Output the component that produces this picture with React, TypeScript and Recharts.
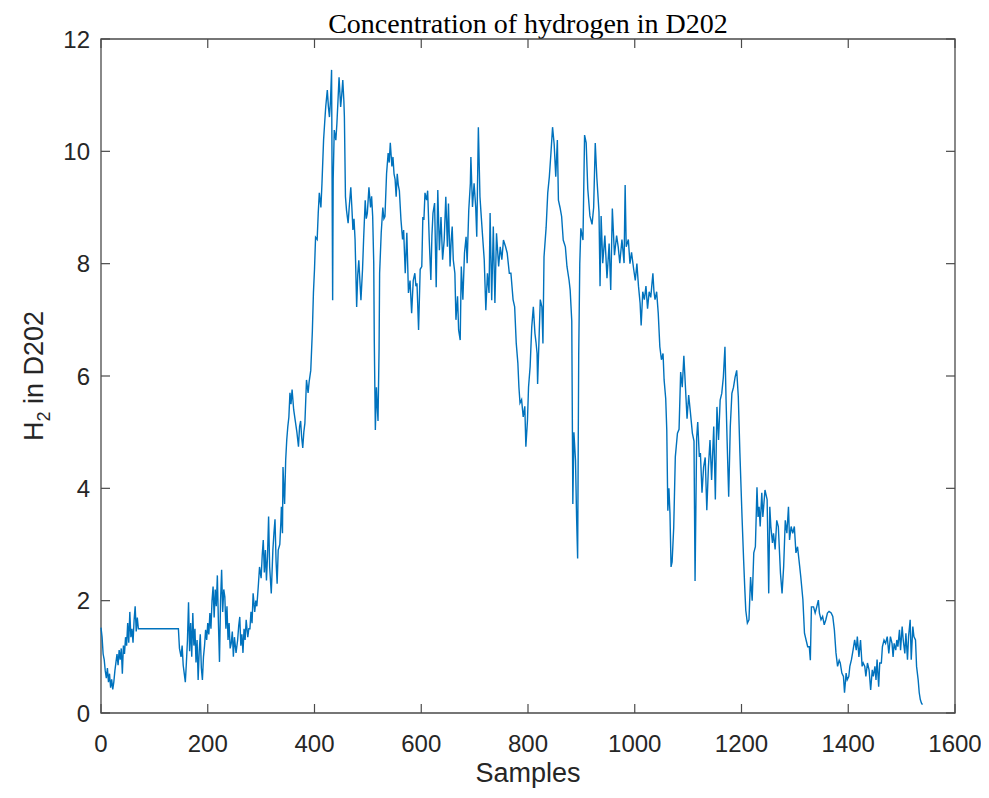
// Hydrogen concentration trace for tank D202, drawn MATLAB-style:
// boxed axes, inward ticks on all four sides, single blue trace.

import { Line, LineChart, ReferenceArea, XAxis, YAxis } from "recharts";

const chartTitle = "Concentration of hydrogen in D202";
const xLabel = "Samples";

const xTicks = [0, 200, 400, 600, 800, 1000, 1200, 1400, 1600];
const yTicks = [0, 2, 4, 6, 8, 10, 12];

// [sample index, H2 level]
const h2Trace: [number, number][] = [
  [0, 1.52], [2, 1.35], [4, 1.05], [6, 0.95], [8, 0.75], [10, 0.62], [12, 0.8], [14, 0.55],
  [16, 0.7], [18, 0.45], [20, 0.6], [22, 0.42], [24, 0.55], [26, 0.75], [28, 0.9], [30, 1.05],
  [32, 0.85], [34, 1.12], [36, 0.95], [38, 1.15], [40, 0.7], [42, 1.2], [44, 1.05], [46, 1.35],
  [48, 1.2], [50, 1.6], [52, 1.25], [54, 1.8], [56, 1.35], [58, 1.5], [60, 1.25], [62, 1.65],
  [64, 1.9], [66, 1.45], [68, 1.7], [70, 1.5], [145, 1.5], [147, 1.15], [150, 1.0], [152, 1.2],
  [154, 0.85], [156, 0.7], [158, 0.55], [160, 0.9], [162, 1.3], [164, 1.97], [166, 1.1], [168, 1.6],
  [170, 1.0], [172, 1.78], [174, 1.2], [176, 1.5], [178, 0.9], [180, 1.3], [182, 0.59], [184, 1.1],
  [186, 1.4], [188, 0.8], [190, 0.59], [192, 1.0], [194, 1.2], [196, 1.48], [198, 1.3], [200, 1.6],
  [202, 1.4], [204, 1.78], [206, 1.5], [208, 2.0], [210, 2.25], [212, 1.7], [214, 2.2], [216, 1.9],
  [218, 2.45], [220, 1.6], [222, 0.91], [224, 2.0], [226, 2.55], [228, 1.8], [230, 2.2], [232, 2.07],
  [234, 1.5], [236, 1.9], [238, 1.3], [240, 1.6], [242, 1.15], [244, 1.24], [246, 1.45], [248, 1.0],
  [250, 1.35], [253, 1.07], [256, 1.3], [258, 1.55], [260, 1.71], [262, 1.2], [264, 1.4], [266, 1.07],
  [268, 1.5], [270, 1.3], [272, 1.66], [275, 1.35], [277, 1.5], [279, 1.5], [281, 1.8], [283, 1.6],
  [285, 2.13], [288, 1.8], [290, 2.0], [292, 1.9], [295, 2.3], [297, 2.6], [300, 2.4], [302, 2.8],
  [304, 3.08], [306, 2.5], [308, 2.9], [310, 2.36], [312, 2.8], [314, 3.5], [316, 2.6], [319, 2.13],
  [322, 2.9], [324, 3.2], [326, 3.45], [328, 2.7], [330, 2.3], [332, 2.9], [335, 3.0], [337, 3.4],
  [338, 3.67], [340, 3.2], [341, 4.38], [343, 3.9], [344, 3.72], [346, 4.5], [348, 4.86], [350, 5.1],
  [352, 5.27], [354, 5.7], [356, 5.5], [358, 5.76], [361, 5.4], [364, 5.2], [367, 5.0], [370, 4.74],
  [372, 5.1], [374, 5.2], [376, 4.9], [378, 4.72], [380, 5.0], [382, 5.16], [385, 5.93], [388, 5.7],
  [390, 5.9], [393, 6.1], [396, 6.8], [398, 7.48], [400, 7.9], [402, 8.47], [405, 8.43], [407, 8.9],
  [409, 9.26], [412, 9.0], [414, 9.43], [417, 10.2], [419, 10.5], [421, 10.79], [424, 11.09], [426, 10.8],
  [428, 10.61], [430, 10.9], [432, 11.45], [434, 7.35], [435, 9.5], [437, 10.38], [440, 10.2], [442, 10.5],
  [444, 10.9], [446, 11.32], [449, 10.79], [451, 11.0], [453, 11.27], [455, 10.9], [456, 10.61], [458, 9.19],
  [460, 8.95], [463, 8.72], [465, 9.0], [468, 9.36], [470, 9.0], [472, 8.6], [474, 8.8], [476, 8.43],
  [479, 7.23], [481, 7.8], [483, 8.06], [485, 7.7], [487, 7.35], [490, 7.9], [492, 8.43], [495, 9.13],
  [497, 8.8], [499, 8.9], [502, 9.36], [505, 9.0], [507, 9.2], [509, 8.84], [511, 8.0], [512, 6.64],
  [514, 5.04], [516, 5.8], [517, 5.57], [519, 5.2], [521, 6.5], [522, 7.83], [525, 8.55], [528, 9.0],
  [530, 8.8], [532, 8.84], [535, 9.6], [538, 9.97], [540, 9.8], [542, 10.15], [545, 9.73], [547, 9.9],
  [549, 9.6], [551, 9.5], [553, 9.19], [555, 9.6], [557, 9.4], [559, 9.3], [562, 8.78], [565, 8.43],
  [567, 8.6], [570, 7.83], [573, 8.55], [576, 7.48], [579, 7.7], [582, 7.12], [585, 7.7], [588, 7.83],
  [590, 7.6], [592, 7.65], [595, 6.82], [598, 7.9], [601, 7.95], [603, 8.83], [605, 8.78], [607, 9.26],
  [610, 9.13], [612, 9.3], [615, 8.42], [618, 7.71], [620, 8.5], [622, 8.9], [625, 9.08], [628, 7.58],
  [631, 9.31], [634, 8.24], [637, 8.83], [640, 8.07], [643, 8.42], [646, 9.19], [649, 8.3], [651, 9.07],
  [654, 7.95], [656, 8.4], [658, 8.66], [660, 8.07], [663, 7.83], [665, 7.0], [668, 7.42], [670, 6.82],
  [673, 6.64], [675, 7.95], [678, 7.36], [681, 8.19], [684, 8.48], [686, 8.01], [689, 8.95], [692, 9.43],
  [693, 9.9], [696, 9.01], [699, 9.43], [702, 9.01], [704, 8.48], [707, 10.43], [710, 9.19], [712, 8.9],
  [715, 8.48], [718, 8.07], [721, 7.17], [724, 7.83], [727, 7.48], [729, 8.9], [732, 7.35], [735, 8.66],
  [738, 7.3], [741, 8.54], [745, 7.95], [748, 8.3], [751, 8.07], [754, 8.42], [758, 8.3], [761, 8.19],
  [765, 7.83], [768, 7.83], [772, 7.36], [775, 7.23], [778, 6.58], [781, 6.23], [783, 5.8], [785, 5.52],
  [788, 5.58], [791, 5.27], [794, 5.46], [796, 4.74], [799, 5.21], [801, 5.8], [804, 6.17], [807, 6.87],
  [810, 7.23], [813, 6.76], [815, 6.6], [817, 6.4], [818, 5.86], [821, 6.76], [823, 7.36], [826, 7.23],
  [828, 6.58], [830, 8.12], [834, 8.65], [837, 9.26], [840, 9.55], [843, 9.97], [846, 10.43], [849, 10.13],
  [852, 9.55], [855, 10.2], [857, 9.13], [860, 9.0], [863, 8.84], [866, 8.42], [870, 8.3], [873, 7.95],
  [877, 7.7], [879, 7.53], [882, 6.98], [884, 3.72], [886, 5.0], [889, 4.5], [891, 3.5], [893, 2.75],
  [895, 6.36], [897, 8.0], [899, 8.63], [903, 8.42], [906, 10.29], [909, 10.15], [912, 9.33], [916, 8.85],
  [920, 8.7], [923, 9.0], [926, 10.15], [929, 9.53], [933, 8.92], [935, 7.6], [937, 8.85], [940, 8.01],
  [944, 8.5], [948, 7.74], [952, 8.36], [955, 7.53], [958, 8.98], [962, 8.15], [966, 8.5], [969, 8.3],
  [972, 8.01], [976, 8.43], [980, 8.01], [982, 9.4], [984, 8.3], [988, 8.43], [991, 8.0], [994, 8.2],
  [998, 7.9], [1001, 7.7], [1004, 8.0], [1007, 7.6], [1010, 7.3], [1012, 6.9], [1015, 7.5], [1018, 7.36],
  [1021, 7.6], [1024, 7.2], [1027, 7.5], [1030, 7.4], [1034, 7.83], [1036, 7.5], [1038, 7.36], [1041, 7.5],
  [1044, 7.12], [1047, 6.52], [1050, 6.29], [1053, 6.4], [1055, 5.93], [1058, 5.6], [1060, 5.04], [1062, 3.6],
  [1064, 4.0], [1066, 3.55], [1068, 2.6], [1070, 2.69], [1073, 3.3], [1076, 4.56], [1080, 4.98], [1083, 5.05],
  [1086, 6.07], [1089, 5.8], [1092, 6.36], [1095, 5.8], [1098, 5.24], [1101, 5.66], [1104, 5.38], [1108, 4.98],
  [1111, 4.84], [1113, 2.35], [1116, 4.9], [1118, 5.18], [1121, 4.56], [1123, 4.63], [1126, 3.92], [1129, 4.38],
  [1132, 4.55], [1135, 3.61], [1138, 4.38], [1141, 4.86], [1144, 4.15], [1148, 5.1], [1151, 3.8], [1154, 5.45],
  [1157, 4.86], [1160, 5.57], [1163, 5.69], [1166, 5.98], [1169, 6.52], [1171, 5.6], [1173, 4.86], [1176, 3.85],
  [1179, 5.1], [1182, 5.69], [1185, 5.8], [1188, 5.98], [1191, 6.1], [1194, 5.63], [1197, 4.63], [1201, 3.49],
  [1204, 2.72], [1206, 2.25], [1208, 1.83], [1211, 1.6], [1214, 1.66], [1217, 2.42], [1220, 2.0], [1223, 2.85],
  [1226, 2.96], [1229, 4.02], [1231, 3.49], [1233, 3.67], [1235, 3.32], [1238, 3.92], [1240, 3.49], [1244, 3.97],
  [1248, 3.8], [1251, 2.13], [1253, 3.67], [1255, 3.32], [1258, 3.03], [1260, 3.2], [1263, 2.91], [1266, 3.43],
  [1269, 3.32], [1273, 2.49], [1276, 2.13], [1279, 2.61], [1282, 3.43], [1285, 3.2], [1288, 3.67], [1290, 3.08],
  [1293, 3.32], [1296, 3.2], [1299, 3.32], [1302, 2.85], [1305, 2.96], [1309, 2.61], [1311, 2.43], [1315, 2.02],
  [1318, 1.42], [1321, 1.3], [1324, 1.18], [1327, 1.18], [1329, 0.94], [1331, 1.89], [1335, 1.89], [1338, 1.78],
  [1341, 1.89], [1344, 2.01], [1346, 1.78], [1349, 1.66], [1352, 1.72], [1355, 1.57], [1358, 1.66], [1361, 1.78],
  [1364, 1.81], [1368, 1.78], [1371, 1.72], [1374, 1.48], [1377, 1.07], [1380, 0.83], [1383, 0.94], [1385, 0.89],
  [1388, 0.71], [1391, 0.65], [1393, 0.36], [1396, 0.71], [1398, 0.59], [1401, 0.65], [1403, 0.83], [1406, 0.95],
  [1409, 1.12], [1412, 1.3], [1415, 1.12], [1417, 1.36], [1420, 1.0], [1423, 1.3], [1426, 0.83], [1428, 0.89],
  [1431, 0.83], [1433, 0.65], [1436, 0.89], [1439, 0.77], [1442, 0.41], [1445, 0.77], [1447, 0.65], [1450, 0.83],
  [1452, 0.59], [1454, 0.95], [1457, 0.47], [1459, 0.89], [1462, 0.89], [1464, 1.18], [1467, 1.3], [1470, 1.24],
  [1473, 1.36], [1476, 1.06], [1479, 1.36], [1482, 1.24], [1484, 1.0], [1486, 1.24], [1489, 1.12], [1491, 1.3],
  [1493, 1.18], [1496, 1.48], [1498, 1.12], [1501, 1.54], [1503, 1.3], [1506, 1.06], [1508, 1.42], [1511, 0.95],
  [1513, 1.36], [1516, 1.66], [1518, 0.95], [1521, 1.54], [1523, 1.36], [1526, 1.3], [1528, 0.83], [1531, 0.59],
  [1533, 0.36], [1535, 0.24], [1537, 0.18], [1539, 0.15],
];

const data = h2Trace.map(([sample, h2]) => ({ sample, h2 }));

// layout (svg coordinates)
const W = 975;
const H = 782;
const PLOT_LEFT = 93;
const PLOT_TOP = 31;
const PLOT_RIGHT = 947;
const PLOT_BOTTOM = 705;
const Y_AXIS_W = 60;
const X_AXIS_H = 50;
const TICK_LEN = 9;

const AXIS = "#4a4a4a";
const TEXT = "#262626";
const LINE = "#0072BD";
const SANS = "'Liberation Sans', Arial, Helvetica, sans-serif";

const XTick = ({ x, payload }: any) => (
  <g>
    <line x1={x} x2={x} y1={PLOT_BOTTOM} y2={PLOT_BOTTOM - TICK_LEN} stroke={AXIS} strokeWidth={1.2} />
    <line x1={x} x2={x} y1={PLOT_TOP} y2={PLOT_TOP + TICK_LEN} stroke={AXIS} strokeWidth={1.2} />
    <text x={x} y={PLOT_BOTTOM + 39} textAnchor="middle" fontFamily={SANS} fontSize={24} fill={TEXT}>
      {payload.value}
    </text>
  </g>
);

const YTick = ({ y, payload }: any) => (
  <g>
    <line x1={PLOT_LEFT} x2={PLOT_LEFT + TICK_LEN} y1={y} y2={y} stroke={AXIS} strokeWidth={1.2} />
    <line x1={PLOT_RIGHT - TICK_LEN} x2={PLOT_RIGHT} y1={y} y2={y} stroke={AXIS} strokeWidth={1.2} />
    <text x={PLOT_LEFT - 11} y={y} dy="0.36em" textAnchor="end" fontFamily={SANS} fontSize={24} fill={TEXT}>
      {payload.value}
    </text>
  </g>
);

const XLabel = () => (
  <text x={(PLOT_LEFT + PLOT_RIGHT) / 2} y={PLOT_BOTTOM + 69} textAnchor="middle"
        fontFamily={SANS} fontSize={27} fill={TEXT}>
    {xLabel}
  </text>
);

const YLabel = () => {
  const cx = 25;
  const cy = (PLOT_TOP + PLOT_BOTTOM) / 2;
  return (
    <text x={cx} y={cy} transform={`rotate(-90 ${cx} ${cy})`} dy="0.36em" textAnchor="middle"
          fontFamily={SANS} fontSize={27} fill={TEXT}>
      H<tspan fontSize={18} dy={7}>2</tspan><tspan dy={-7}> in D202</tspan>
    </text>
  );
};

export default function App() {
  return (
    <div style={{ position: "relative", width: W, height: H }}>
      <div style={{
        position: "absolute", left: PLOT_LEFT, width: PLOT_RIGHT - PLOT_LEFT, top: 2,
        textAlign: "center", fontFamily: "'Liberation Serif', 'Times New Roman', serif",
        fontSize: 28, color: "#000", lineHeight: "28px",
      }}>
        {chartTitle}
      </div>
      <LineChart width={W} height={H} data={data}
                 margin={{ top: PLOT_TOP, right: W - PLOT_RIGHT, left: PLOT_LEFT - Y_AXIS_W, bottom: H - PLOT_BOTTOM - X_AXIS_H }}>
        <XAxis dataKey="sample" type="number" domain={[0, 1600]} ticks={xTicks} interval={0}
               height={X_AXIS_H} axisLine={false} tickLine={false} tick={<XTick />} label={<XLabel />} />
        <YAxis type="number" domain={[0, 12]} ticks={yTicks} interval={0} width={Y_AXIS_W}
               axisLine={false} tickLine={false} tick={<YTick />} label={<YLabel />} />
        <Line type="linear" dataKey="h2" stroke={LINE} strokeWidth={1.4} dot={false}
              activeDot={false} isAnimationActive={false} />
        <ReferenceArea x1={0} x2={1600} y1={0} y2={12} fill="none" stroke={AXIS} strokeWidth={1.3} />
      </LineChart>
    </div>
  );
}
